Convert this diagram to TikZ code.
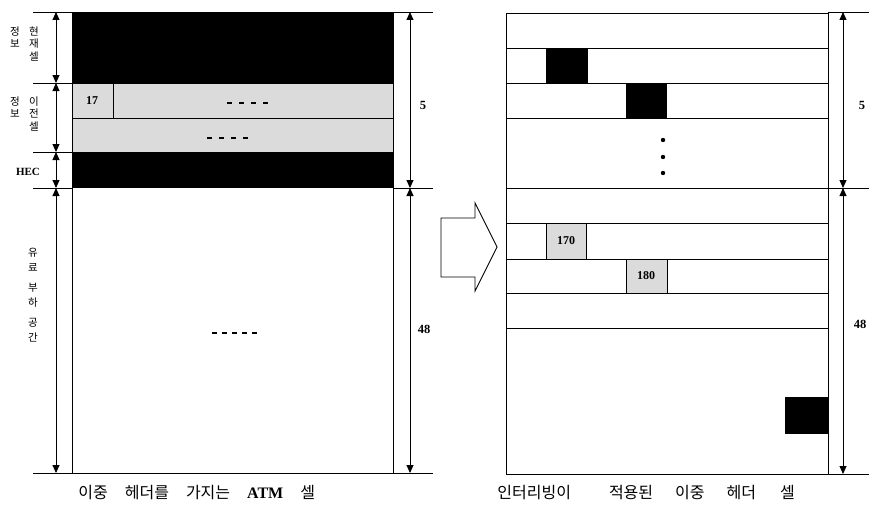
\documentclass[tikz,border=0pt]{standalone}
\usepackage{fontspec}
\setmainfont{Liberation Serif}
\newfontfamily\kr{Noto Sans CJK KR}
\usetikzlibrary{arrows.meta}
\begin{document}
\begin{tikzpicture}[x=1pt,y=-1pt,line width=0.8pt,
  dimline/.style={{Triangle[length=8pt,width=7pt]}-{Triangle[length=8pt,width=7pt]},line width=0.9pt},
  tick/.style={line width=0.9pt},
  blk/.style={fill=black},
  graycell/.style={draw=black,fill=gray!28},
  rowbox/.style={draw=black,line width=0.9pt},
  numlbl/.style={font=\bfseries\fontsize{12}{12}\selectfont,inner sep=0pt},
  dimlbl/.style={font=\bfseries\fontsize{12.5}{12.5}\selectfont,inner sep=0pt},
  vlbl/.style={font=\kr\fontsize{10.5}{12.5}\selectfont,align=center,inner sep=0pt,anchor=north},
  caption/.style={font=\kr\fontsize{16}{16}\selectfont,inner sep=0pt},
  dots/.style={dash pattern=on 4.5pt off 7.5pt,line width=1.3pt}]
\useasboundingbox (0,0) rectangle (869,511);

% ---------- left panel: ATM cell with double header ----------
\fill[blk] (72,12) rectangle (393,83);
\filldraw[graycell] (72,83) rectangle (393,118);
\draw (113,83) -- (113,118);
\node[numlbl] (n17) at (92,101) {17};
\filldraw[graycell] (72,118) rectangle (393,152);
\fill[blk] (72,152) rectangle (393,188);
\draw (72,12) rectangle (393,473);
\draw[dots] (227,103) -- (268,103);
\draw[dots] (207,138) -- (248,138);
\draw[dash pattern=on 4.5pt off 5.5pt,line width=1.3pt] (212,333) -- (257,333);

% left dimension lines
\coordinate (L0) at (56,12);
\coordinate (L1) at (56,83);
\coordinate (L2) at (56,152);
\coordinate (L3) at (56,188);
\coordinate (L4) at (56,473);
\foreach \yy in {12,83,152,188,473} \draw[tick] (33,\yy) -- (72,\yy);
\draw[dimline] (L0) -- (L1);
\draw[dimline] (L1) -- (L2);
\draw[dimline] (L2) -- (L3);
\draw[dimline] (L3) -- (L4);

\node[vlbl] (a1) at (15,26) {정\\보};
\node[vlbl] (a2) at (34,26) {현\\재\\셀};
\node[vlbl] (b1) at (15,96) {정\\보};
\node[vlbl] (b2) at (34,96) {이\\전\\셀};
\node[font=\bfseries\fontsize{11}{11}\selectfont,inner sep=0pt] (hec) at (28,172) {HEC};
\node[vlbl,font=\kr\fontsize{10.5}{14.5}\selectfont] (pl) at (33,248) {유\\료\\[6pt]부\\하\\[6pt]공\\간};

% right dimension lines of left panel
\coordinate (M0) at (410,12);
\coordinate (M1) at (410,188);
\coordinate (M2) at (410,473);
\foreach \yy in {12,188,473} \draw[tick] (393,\yy) -- (433,\yy);
\draw[dimline] (M0) -- (M1);
\draw[dimline] (M1) -- (M2);
\node[dimlbl] (d5a) at (423,105) {5};
\node[dimlbl] (d48a) at (424,329) {48};

% ---------- big hollow arrow ----------
\draw[line width=0.9pt] (441,218) -- (475,218) -- (475,203) -- (497,247) -- (475,291) -- (475,277) -- (441,277) -- cycle;

% ---------- right panel: interleaved ----------
\foreach \ya/\yb in {13/48,48/83,83/118,118/188,188/223,223/259,259/293,293/328,328/474}
  \draw[rowbox] (506,\ya) rectangle (828,\yb);
\fill[blk] (546,48) rectangle (588,83);
\fill[blk] (626,83) rectangle (667,118);
\foreach \yy in {140,157,173} \fill (663,\yy) circle (2.2pt);
\filldraw[graycell] (546,223) rectangle (586,259);
\node[numlbl] (n170) at (566,241) {170};
\filldraw[graycell] (626,259) rectangle (667,293);
\node[numlbl] (n180) at (646,276) {180};
\fill[blk] (785,397) rectangle (828,434);

% right dimension lines
\coordinate (R0) at (843,12);
\coordinate (R1) at (843,188);
\coordinate (R2) at (843,474);
\foreach \yy in {12,188,474} \draw[tick] (828,\yy) -- (869,\yy);
\draw[dimline] (R0) -- (R1);
\draw[dimline] (R1) -- (R2);
\node[dimlbl] (d5b) at (862,105) {5};
\node[dimlbl] (d48b) at (860,324) {48};

% ---------- captions ----------
\node[caption,anchor=west] (capL) at (78,493) {이중\hspace{17pt}헤더를\hspace{17pt}가지는\hspace{17pt}{\rmfamily\bfseries ATM}\hspace{17pt}셀};
\node[caption,anchor=west] (capR) at (497,493) {인터리빙이\hspace{38pt}적용된\hspace{22pt}이중\hspace{22pt}헤더\hspace{24pt}셀};
\end{tikzpicture}
\end{document}
